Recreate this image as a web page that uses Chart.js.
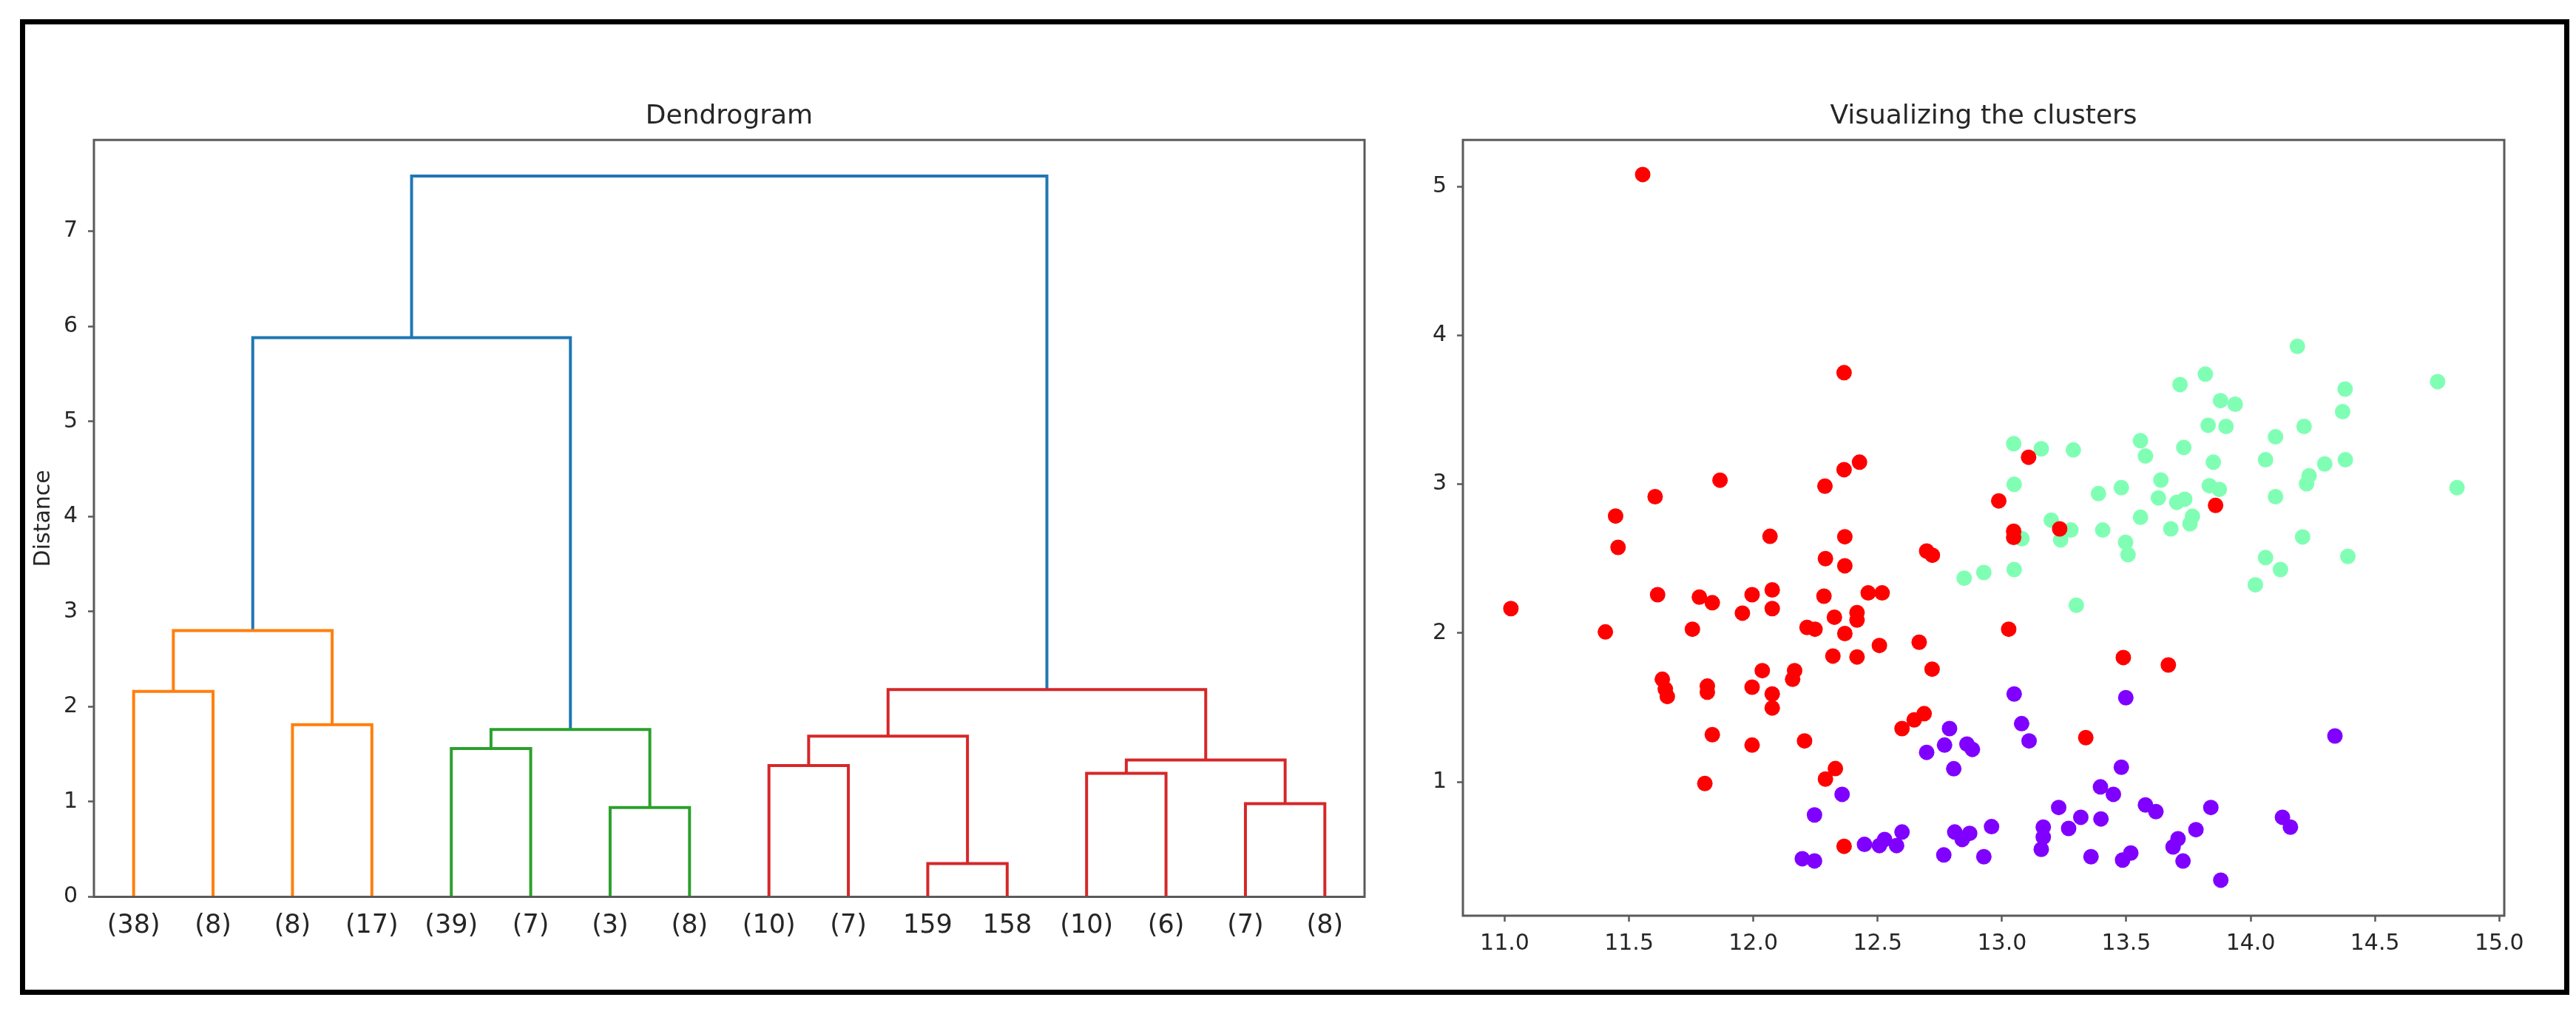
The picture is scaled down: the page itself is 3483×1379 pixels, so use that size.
<!DOCTYPE html>
<html>
<head>
<meta charset="utf-8">
<title>Dendrogram and clusters</title>
<script src="https://cdn.jsdelivr.net/npm/chart.js@4.4.1/dist/chart.umd.min.js"></script>
<style>
  html, body { margin: 0; padding: 0; background: #fff; overflow: hidden; }
  #page { position: relative; width: 3483px; height: 1379px; background: #fff; }
  #frame {
    position: absolute; left: 27px; top: 26px; width: 3447px; height: 1319px;
    border: 7px solid #000; box-sizing: border-box;
  }
  canvas { position: absolute; top: 0; }
  #dendro { left: 0; }
  #scatter { left: 1900px; }
</style>
</head>
<body>
<div id="page">
  <div id="frame"></div>
  <canvas id="dendro" width="1900" height="1379" style="width:1900px;height:1379px"></canvas>
  <canvas id="scatter" width="1583" height="1379" style="width:1583px;height:1379px"></canvas>
</div>
<script>
// ---- dendrogram data (scipy layout: leaves sit at 5, 15, 25, ...) ----
const leafLabels = ["(38)", "(8)", "(8)", "(17)", "(39)", "(7)", "(3)", "(8)",
                    "(10)", "(7)", "159", "158", "(10)", "(6)", "(7)", "(8)"];
const leafPos = [5, 15, 25, 35, 45, 55, 65, 75, 85, 95, 105, 115, 125, 135, 145, 155];

// each link is a U: left foot, left top, right top, right foot
const linkX = [
  [5, 5, 15, 15],
  [25, 25, 35, 35],
  [10, 10, 30, 30],
  [45, 45, 55, 55],
  [65, 65, 75, 75],
  [50, 50, 70, 70],
  [20, 20, 60, 60],
  [85, 85, 95, 95],
  [105, 105, 115, 115],
  [90, 90, 110, 110],
  [125, 125, 135, 135],
  [145, 145, 155, 155],
  [130, 130, 150, 150],
  [100, 100, 140, 140],
  [40, 40, 120, 120],
];
const linkY = [
  [0, 2.16, 2.16, 0],
  [0, 1.81, 1.81, 0],
  [2.16, 2.80, 2.80, 1.81],
  [0, 1.56, 1.56, 0],
  [0, 0.94, 0.94, 0],
  [1.56, 1.76, 1.76, 0.94],
  [2.80, 5.88, 5.88, 1.76],
  [0, 1.38, 1.38, 0],
  [0, 0.35, 0.35, 0],
  [1.38, 1.69, 1.69, 0.35],
  [0, 1.30, 1.30, 0],
  [0, 0.98, 0.98, 0],
  [1.30, 1.44, 1.44, 0.98],
  [1.69, 2.18, 2.18, 1.44],
  [5.88, 7.58, 7.58, 2.18],
];
const linkCluster = ["C1", "C1", "C1", "C2", "C2", "C2", "C0",
                     "C3", "C3", "C3", "C3", "C3", "C3", "C3", "C0"];
const dendroYTicks = [0, 1, 2, 3, 4, 5, 6, 7];
const dendroYRange = [0, 7.96];
const dendroXRange = [0, 160];

// ---- scatter data, one pair of arrays per cluster ----
const redX = [11.555, 11.866, 11.605, 11.446, 12.288, 12.067, 12.365, 12.427, 12.365, 13.107,
              12.987, 13.232, 13.047, 13.047, 13.859, 12.368, 12.697, 12.720, 12.290, 12.368,
              12.284, 12.462, 12.518, 12.326, 12.417, 12.417, 12.368, 13.027, 12.667, 12.507,
              12.320, 12.417, 12.719, 13.488, 13.669, 12.687, 12.647, 12.598, 13.337, 12.330,
              12.290, 12.365, 11.456, 11.025, 11.615, 11.783, 11.835, 11.995, 12.076, 12.076,
              11.956, 12.216, 12.248, 11.405, 11.755, 11.634, 11.646, 11.654, 11.815, 11.815,
              12.036, 11.995, 12.076, 12.076, 12.166, 12.158, 11.835, 11.995, 12.206, 11.805];
const redY = [5.080, 3.027, 2.916, 2.786, 2.987, 2.650, 3.749, 3.148, 3.098, 3.181,
              2.888, 2.700, 2.684, 2.643, 2.858, 2.647, 2.551, 2.523, 2.500, 2.452,
              2.248, 2.270, 2.270, 2.107, 2.138, 2.088, 1.997, 2.026, 1.939, 1.917,
              1.846, 1.840, 1.758, 1.836, 1.786, 1.459, 1.417, 1.359, 1.298, 1.090,
              1.020, 0.568, 2.576, 2.165, 2.258, 2.242, 2.204, 2.258, 2.290, 2.165,
              2.134, 2.038, 2.026, 2.008, 2.026, 1.690, 1.624, 1.574, 1.644, 1.603,
              1.748, 1.637, 1.591, 1.497, 1.748, 1.690, 1.318, 1.248, 1.276, 0.990];

const greenX = [13.047, 13.158, 13.287, 13.557, 13.577, 13.716, 13.731, 13.049, 13.388, 13.480,
                13.639, 13.629, 13.703, 13.735, 13.557, 13.198, 13.277, 13.405, 13.679, 13.080,
                13.236, 13.497, 13.507, 12.848, 12.927, 13.049, 13.299, 14.209, 14.060, 14.120,
                14.019, 14.391, 13.766, 13.756, 14.188, 13.818, 14.752, 14.380, 13.879, 13.938,
                14.370, 13.829, 13.901, 14.215, 14.100, 13.850, 14.060, 14.298, 14.381, 14.235,
                14.225, 13.834, 13.874, 14.100, 14.830];
const greenY = [3.272, 3.238, 3.230, 3.292, 3.189, 3.669, 3.247, 2.999, 2.937, 2.977,
                3.028, 2.908, 2.878, 2.899, 2.778, 2.759, 2.692, 2.692, 2.700, 2.634,
                2.626, 2.610, 2.527, 2.369, 2.407, 2.427, 2.187, 2.646, 2.507, 2.427,
                2.324, 2.515, 2.784, 2.734, 3.926, 3.739, 3.689, 3.639, 3.561, 3.537,
                3.487, 3.396, 3.388, 3.388, 3.318, 3.148, 3.164, 3.136, 3.164, 3.057,
                3.003, 2.990, 2.965, 2.916, 2.977];

const purpleX = [13.049, 13.498, 12.789, 13.079, 13.109, 12.769, 12.859, 12.881, 12.697, 12.806,
                 12.357, 13.480, 13.396, 13.448, 13.228, 13.317, 13.268, 13.398, 13.577, 13.619,
                 13.166, 13.166, 13.158, 12.958, 12.810, 12.840, 12.870, 12.766, 12.927, 12.598,
                 12.576, 12.528, 12.507, 12.447, 13.358, 13.485, 13.518, 13.688, 13.708, 13.728,
                 14.339, 13.840, 13.780, 14.128, 14.160, 13.880, 12.246, 12.197, 12.246];
const purpleY = [1.591, 1.566, 1.359, 1.392, 1.276, 1.248, 1.255, 1.219, 1.199, 1.089,
                 0.917, 1.099, 0.967, 0.917, 0.829, 0.763, 0.688, 0.752, 0.846, 0.801,
                 0.697, 0.630, 0.548, 0.700, 0.664, 0.614, 0.655, 0.510, 0.498, 0.664,
                 0.573, 0.614, 0.573, 0.581, 0.498, 0.476, 0.523, 0.564, 0.619, 0.469,
                 1.309, 0.829, 0.680, 0.763, 0.697, 0.341, 0.779, 0.485, 0.470];

const scatterXTicks = [11.0, 11.5, 12.0, 12.5, 13.0, 13.5, 14.0, 14.5, 15.0];
const scatterYTicks = [1, 2, 3, 4, 5];
const scatterXRange = [10.832, 15.02];
const scatterYRange = [0.102, 5.312];

// ---- styling ----
const clusterColors = { C0: "#1f77b4", C1: "#ff7f0e", C2: "#2ca02c", C3: "#d62728" };
const textColor = "#262626";
const spineColor = "#5a5a5a";

Chart.defaults.font.family = "'DejaVu Sans', sans-serif";
Chart.defaults.color = textColor;

// matplotlib draws a full box around each axes
const axesBox = {
  id: "axesBox",
  afterDatasetsDraw(chart) {
    const { ctx, chartArea: a } = chart;
    ctx.save();
    ctx.strokeStyle = spineColor;
    ctx.lineWidth = 3;
    ctx.strokeRect(a.left, a.top, a.right - a.left, a.bottom - a.top);
    ctx.restore();
  },
};

function fixedTicks(values) {
  return (scale) => {
    scale.ticks = values.map((v) => ({ value: v }));
  };
}

function titleOpts(text) {
  return {
    display: true,
    text: text,
    fullSize: false,
    color: textColor,
    font: { size: 36, weight: "normal" },
    padding: { top: 136, bottom: 10 },
  };
}

const tickGrid = {
  drawOnChartArea: false,
  drawTicks: true,
  tickLength: 8,
  tickWidth: 2.5,
  tickColor: spineColor,
};

const baseOptions = {
  responsive: false,
  animation: false,
  devicePixelRatio: 1,
  events: [],
};

new Chart(document.getElementById("dendro"), {
  type: "scatter",
  data: {
    datasets: linkX.map((xs, i) => ({
      data: xs.map((x, j) => ({ x: x, y: linkY[i][j] })),
      showLine: true,
      borderColor: clusterColors[linkCluster[i]],
      borderWidth: 4,
      pointRadius: 0,
      fill: false,
      tension: 0,
    })),
  },
  options: {
    ...baseOptions,
    layout: { padding: { left: 0, right: 55, top: 0, bottom: 0 } },
    plugins: {
      legend: { display: false },
      tooltip: { enabled: false },
      title: titleOpts("Dendrogram"),
    },
    scales: {
      x: {
        type: "linear",
        min: dendroXRange[0],
        max: dendroXRange[1],
        afterBuildTicks: fixedTicks(leafPos),
        afterFit(scale) { scale.height = 166.5; },
        grid: { display: false, drawTicks: false },
        border: { display: false },
        ticks: {
          autoSkip: false,
          maxRotation: 0,
          padding: 18,
          font: { size: 35 },
          color: textColor,
          callback(value, index) {
            return leafLabels[index];
          },
        },
      },
      y: {
        type: "linear",
        min: dendroYRange[0],
        max: dendroYRange[1],
        afterBuildTicks: fixedTicks(dendroYTicks),
        afterFit(scale) { scale.width = 127; },
        grid: tickGrid,
        border: { display: false },
        ticks: { padding: 14, font: { size: 30 }, color: textColor },
        title: {
          display: true,
          text: "Distance",
          color: textColor,
          font: { size: 30 },
          padding: { top: 41, bottom: 0 },
        },
      },
    },
  },
  plugins: [axesBox],
});

function pts(xs, ys) {
  return xs.map((x, i) => ({ x: x, y: ys[i] }));
}

function clusterSet(xs, ys, color) {
  return {
    data: pts(xs, ys),
    backgroundColor: color,
    borderWidth: 0,
    pointRadius: 10.5,
    pointBorderWidth: 0,
  };
}

new Chart(document.getElementById("scatter"), {
  type: "scatter",
  data: {
    // first dataset is painted last, so red ends up on top like the original
    datasets: [
      clusterSet(redX, redY, "#ff0000"),
      clusterSet(greenX, greenY, "#80ffb4"),
      clusterSet(purpleX, purpleY, "#8000ff"),
    ],
  },
  options: {
    ...baseOptions,
    layout: { padding: { left: 0, right: 97, top: 0, bottom: 0 } },
    plugins: {
      legend: { display: false },
      tooltip: { enabled: false },
      title: titleOpts("Visualizing the clusters"),
    },
    scales: {
      x: {
        type: "linear",
        min: scatterXRange[0],
        max: scatterXRange[1],
        afterBuildTicks: fixedTicks(scatterXTicks),
        afterFit(scale) { scale.height = 141; },
        grid: tickGrid,
        border: { display: false },
        ticks: {
          autoSkip: false,
          maxRotation: 0,
          padding: 12,
          font: { size: 30 },
          color: textColor,
          callback(value) {
            return Number(value).toFixed(1);
          },
        },
      },
      y: {
        type: "linear",
        min: scatterYRange[0],
        max: scatterYRange[1],
        afterBuildTicks: fixedTicks(scatterYTicks),
        afterFit(scale) { scale.width = 78; },
        grid: tickGrid,
        border: { display: false },
        ticks: { padding: 14, font: { size: 30 }, color: textColor },
      },
    },
  },
  plugins: [axesBox],
});
</script>
</body>
</html>
